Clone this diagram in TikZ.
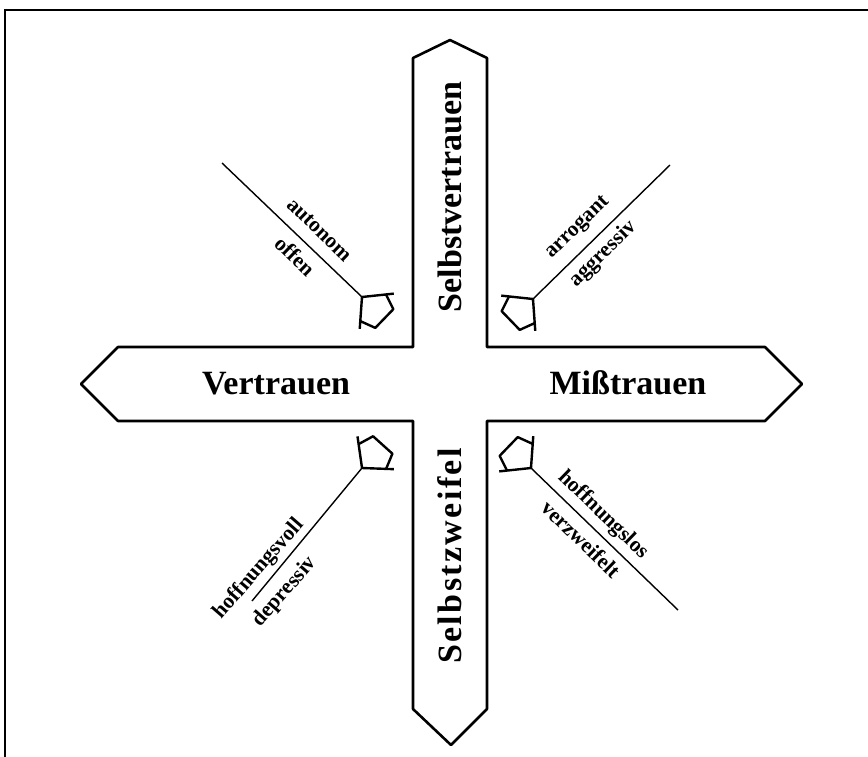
\documentclass[tikz,border=0pt]{standalone}
\usepackage{fontspec}
\setmainfont{Liberation Serif}
\begin{document}
\begin{tikzpicture}[x=1pt,y=-1pt,
  crossline/.style={line width=2.6pt,line join=round},
  diag/.style={line width=1.4pt},
  headline/.style={line width=2.4pt,line join=round},
  big/.style={font=\fontsize{34}{40}\selectfont\bfseries,inner sep=0pt},
  small/.style={font=\fontsize{21.5}{26}\selectfont\bfseries,inner sep=0pt},
  head/.pic={
    \draw[headline] (20.5,24.5) -- (0,0) -- (20.5,-24.5);
    \draw[headline] (15.5,18.5) -- (31,13) -- (31,-13) -- (15.5,-18.5);
  }]
\useasboundingbox (0,0) rectangle (868,756);
\clip (0,0) rectangle (868,756);
\fill[white] (0,0) rectangle (868,756);
% frame
\draw[line width=1.8pt] (5,780) -- (5,10) -- (890,10);
% cross
\draw[crossline] (450,40) -- (487,58) -- (487,347) -- (765,347) -- (802,384)
  -- (765,421) -- (487,421) -- (487,709) -- (451,745) -- (413,709)
  -- (413,421) -- (118,421) -- (81,384) -- (118,347) -- (413,347)
  -- (413,58) -- cycle;
\node[big,rotate=90] (sv) at (450,197) {Selbstvertrauen};
\node[big,rotate=90] (sz) at (450,556) {\addfontfeatures{LetterSpace=7}Selbstzweifel};
\node[big] (ve) at (276,384) {Vertrauen};
\node[big] (mi) at (628,383) {Mißtrauen};
% upper left
\coordinate (p1) at (222,163);
\coordinate (a1) at (362,297);
\draw[diag] (p1) -- (a1);
\pic[rotate=-44] at (a1) {head};
\node[small,rotate=-44] (t1a) at (319,230) {autonom};
\node[small,rotate=-44] (t1b) at (295,256) {offen};
% upper right
\coordinate (p2) at (670,165);
\coordinate (a2) at (533,299);
\draw[diag] (p2) -- (a2);
\pic[rotate=-136] at (a2) {head};
\node[small,rotate=44.4] (t2a) at (578,228) {arrogant};
\node[small,rotate=44.4] (t2b) at (603,254) {aggressiv};
% lower left
\coordinate (p3) at (252,601);
\coordinate (a3) at (362,468);
\draw[diag] (p3) -- (a3);
\pic[rotate=48] at (a3) {head};
\node[small,rotate=49] (t3a) at (259,569) {hoffnungsvoll};
\node[small,rotate=49] (t3b) at (285,592) {depressiv};
% lower right
\coordinate (p4) at (678,610);
\coordinate (a4) at (531,468);
\draw[diag] (p4) -- (a4);
\pic[rotate=136] at (a4) {head};
\node[small,rotate=-44] (t4a) at (603,515) {hoffnungslos};
\node[small,rotate=-44] (t4b) at (581,539) {verzweifelt};
\end{tikzpicture}
\end{document}
